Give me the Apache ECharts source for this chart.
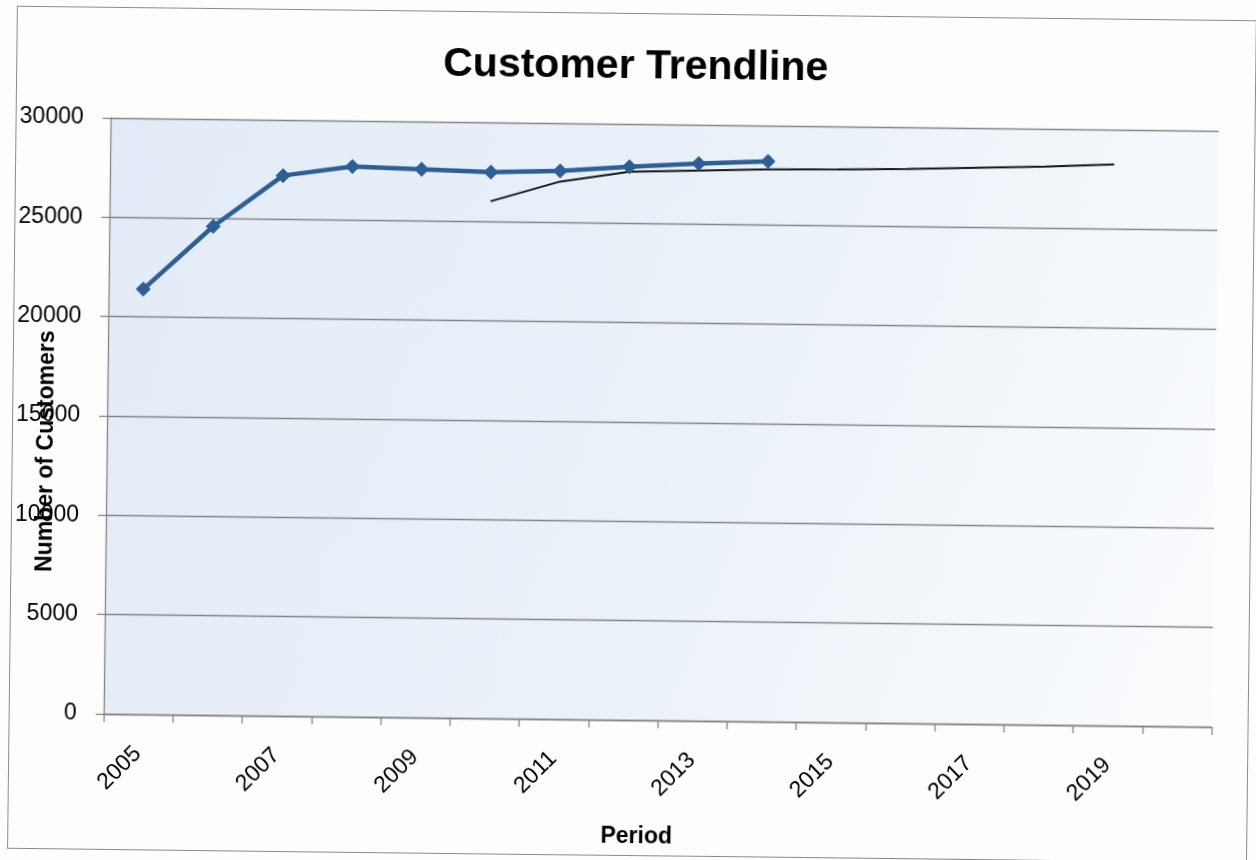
<!DOCTYPE html>
<html>
<head>
<meta charset="utf-8">
<script src="https://cdn.jsdelivr.net/npm/echarts@6/dist/echarts.min.js"></script>
<style>
  html, body { margin: 0; padding: 0; background: #fdfdfb; }
  #wrap { position: relative; width: 1256px; height: 860px; transform: rotate(0.67deg); transform-origin: 50% 50%; }
  #frame { position: absolute; left: 12px; top: 13px; width: 1238px; height: 841px; border: 1.5px solid #8c8c8c; }
  #chart { position: absolute; left: 0; top: 0; width: 1256px; height: 860px; }
</style>
</head>
<body>
<div id="wrap">
  <div id="frame"></div>
  <div id="chart"></div>
</div>
<script>
const years = ['2005','2006','2007','2008','2009','2010','2011','2012','2013','2014','2015','2016','2017','2018','2019','2020'];
const customers = [21400, 24600, 27200, 27700, 27600, 27500, 27600, 27850, 28050, 28200];
const trend = [null, null, null, null, null, 26030, 27060, 27600, 27700, 27800, 27830, 27900, 28000, 28100, 28250, null];
const yMin = 0, yMax = 30000, yStep = 5000;

const FONT = '"Liberation Sans", Arial, sans-serif';
const chart = echarts.init(document.getElementById('chart'), null, { renderer: 'canvas' });
chart.setOption({
  backgroundColor: 'transparent',
  animation: false,
  title: {
    text: 'Customer Trendline',
    left: 434,
    top: 41,
    textStyle: { fontFamily: FONT, fontSize: 41, fontWeight: 'bold', color: '#000' }
  },
  grid: {
    left: 107, right: 41, top: 124, bottom: 140,
    containLabel: false,
    outerBoundsMode: 'none',
    show: true,
    borderWidth: 0,
    backgroundColor: {
      type: 'linear', x: 0, y: 0, x2: 1, y2: 0.7,
      colorStops: [
        { offset: 0, color: '#e2ebf7' },
        { offset: 0.6, color: '#ecf2f9' },
        { offset: 1, color: '#f9fbfd' }
      ]
    }
  },
  xAxis: {
    type: 'category',
    data: years,
    boundaryGap: true,
    name: 'Period',
    nameLocation: 'middle',
    nameGap: 105,
    nameMoveOverlap: false,
    nameTextStyle: { fontFamily: FONT, fontSize: 23, fontWeight: 'bold', color: '#000', padding: [0, 40, 0, 0] },
    axisLine: { show: true, lineStyle: { color: '#858585', width: 1.3 } },
    axisTick: { show: true, interval: 0, length: 8, alignWithLabel: false, lineStyle: { color: '#858585', width: 1.3 } },
    axisLabel: { interval: 1, rotate: 45, fontFamily: FONT, fontSize: 23, color: '#000', margin: 36 },
    splitLine: { show: false }
  },
  yAxis: {
    type: 'value',
    min: yMin, max: yMax, interval: yStep,
    name: 'Number of Customers',
    nameLocation: 'middle',
    nameGap: 49,
    nameMoveOverlap: false,
    nameTextStyle: { fontFamily: FONT, fontSize: 23, fontWeight: 'bold', color: '#000', padding: [0, 72, 0, 0] },
    axisLine: { show: true, lineStyle: { color: '#858585', width: 1.3 } },
    axisTick: { show: true, length: 8, lineStyle: { color: '#858585', width: 1.3 } },
    axisLabel: { fontFamily: FONT, fontSize: 23, color: '#000', margin: 27, formatter: function (v) { return String(v); } },
    splitLine: { show: true, lineStyle: { color: '#858585', width: 1.3 } }
  },
  series: [
    {
      name: 'Trend',
      type: 'line',
      data: trend,
      symbol: 'none',
      connectNulls: false,
      lineStyle: { color: '#151515', width: 2 },
      z: 2
    },
    {
      name: 'Customers',
      type: 'line',
      data: customers,
      symbol: 'diamond',
      symbolSize: 15,
      itemStyle: { color: '#2d5f94' },
      lineStyle: { color: '#2d5f94', width: 4.5 },
      z: 3
    }
  ]
});
</script>
</body>
</html>
